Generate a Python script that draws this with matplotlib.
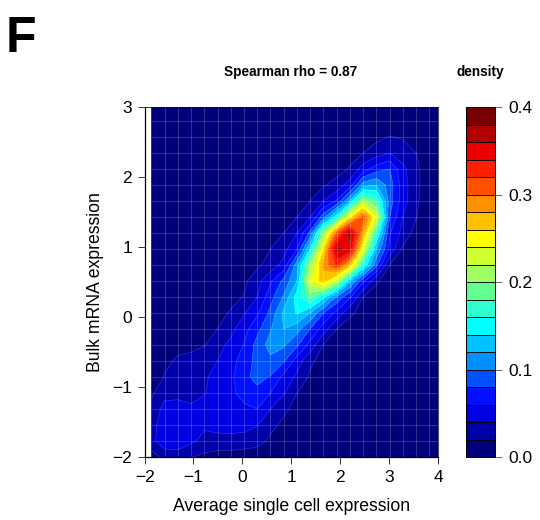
#!/usr/bin/env python3
"""Filled density contour of bulk vs. average single cell expression (panel F)."""

import numpy as np
import matplotlib
matplotlib.use("Agg")
import matplotlib.pyplot as plt
from matplotlib.colors import ListedColormap, BoundaryNorm

plt.rcParams["font.family"] = ["Liberation Sans", "DejaVu Sans"]

x_grid = [-1.86, -1.589, -1.319, -1.048, -0.778, -0.507, -0.236, 0.034, 0.305, 0.575, 0.846,
          1.117, 1.387, 1.658, 1.928, 2.199, 2.47, 2.74, 3.011, 3.281, 3.552, 3.823, 4.093]
y_grid = [-2.0, -1.771, -1.543, -1.314, -1.086, -0.857, -0.629, -0.4, -0.171, 0.057, 0.286,
          0.514, 0.743, 0.971, 1.2, 1.429, 1.657, 1.886, 2.114, 2.343, 2.571, 2.8, 3.029]

# density on the grid, one row per y_grid value, bottom row first
density = [
    [.012, .024, .030, .021, .015, .011, .009, .007, .006, .004, .003, .002, .001, .001, 0, 0, 0, 0, 0, 0, 0, 0, 0],
    [.032, .056, .052, .044, .034, .034, .035, .034, .028, .016, .011, .008, .005, .003, .002, .001, .001, 0, 0, 0, 0, 0, 0],
    [.033, .050, .053, .050, .043, .046, .046, .045, .041, .025, .016, .011, .007, .005, .003, .002, .001, .001, 0, 0, 0, 0, 0],
    [.027, .046, .047, .045, .045, .050, .052, .055, .060, .040, .024, .014, .009, .006, .004, .002, .001, .001, 0, 0, 0, 0, 0],
    [.016, .034, .035, .030, .039, .046, .055, .068, .072, .060, .042, .020, .012, .008, .005, .003, .002, .001, 0, 0, 0, 0, 0],
    [.009, .021, .027, .028, .034, .054, .056, .073, .088, .078, .055, .036, .017, .010, .006, .004, .002, .001, 0, 0, 0, 0, 0],
    [.005, .017, .022, .026, .031, .040, .052, .070, .086, .095, .082, .050, .024, .012, .007, .004, .002, .001, 0, 0, 0, 0, 0],
    [.003, .012, .016, .015, .019, .033, .045, .061, .087, .108, .103, .083, .053, .019, .009, .005, .003, .002, .001, 0, 0, 0, 0],
    [.002, .007, .010, .011, .014, .020, .034, .053, .074, .098, .120, .108, .079, .050, .020, .010, .005, .003, .001, 0, 0, 0, 0],
    [.001, .004, .006, .007, .009, .014, .022, .038, .057, .085, .125, .142, .119, .080, .054, .024, .012, .006, .003, .001, 0, 0, 0],
    [.001, .002, .003, .004, .005, .009, .014, .021, .040, .072, .102, .150, .185, .145, .095, .063, .020, .010, .005, .002, .001, 0, 0],
    [0, .001, .002, .002, .003, .005, .009, .015, .033, .057, .085, .120, .235, .270, .220, .125, .065, .023, .010, .005, .002, .001, 0],
    [0, 0, .001, .001, .002, .003, .005, .009, .016, .028, .047, .110, .205, .285, .325, .270, .160, .085, .020, .009, .004, .002, .001],
    [0, 0, 0, .001, .001, .002, .003, .005, .010, .020, .032, .060, .140, .255, .370, .355, .235, .120, .055, .017, .007, .003, .001],
    [0, 0, 0, 0, .001, .001, .002, .003, .006, .012, .020, .040, .085, .200, .305, .375, .280, .165, .062, .033, .012, .006, .002],
    [0, 0, 0, 0, 0, .001, .001, .002, .003, .006, .011, .020, .040, .090, .150, .250, .310, .235, .080, .040, .021, .009, .003],
    [0, 0, 0, 0, 0, 0, .001, .001, .002, .004, .007, .012, .020, .040, .062, .120, .210, .175, .090, .050, .023, .009, .004],
    [0, 0, 0, 0, 0, 0, 0, .001, .001, .002, .004, .008, .012, .018, .027, .050, .110, .120, .090, .050, .024, .010, .004],
    [0, 0, 0, 0, 0, 0, 0, 0, .001, .001, .002, .004, .006, .008, .012, .022, .050, .070, .080, .045, .024, .010, .004],
    [0, 0, 0, 0, 0, 0, 0, 0, 0, .001, .001, .002, .003, .005, .008, .012, .020, .030, .040, .030, .020, .007, .002],
    [0, 0, 0, 0, 0, 0, 0, 0, 0, 0, .001, .001, .002, .003, .005, .008, .012, .015, .021, .018, .010, .004, .001],
    [0, 0, 0, 0, 0, 0, 0, 0, 0, 0, 0, 0, .001, .001, .002, .002, .003, .004, .004, .003, .002, .001, 0],
    [0, 0, 0, 0, 0, 0, 0, 0, 0, 0, 0, 0, 0, 0, 0, 0, 0, 0, 0, 0, 0, 0, 0],
]

levels = [0.0, .02, .04, .06, .08, .10, .12, .14, .16, .18, .20,
          .22, .24, .26, .28, .30, .32, .34, .36, .38, .40]
level_colors = ["#00007a", "#0000a8", "#0000e0", "#0010ff", "#0050ff", "#0090ff", "#00c0ff",
                "#00ffff", "#30ffd0", "#60ff90", "#a0ff60", "#d0ff30", "#ffff00", "#ffc000",
                "#ff9000", "#ff5000", "#ff2000", "#e80000", "#b00000", "#780000"]
x_ticks = [-2, -1, 0, 1, 2, 3, 4]
y_ticks = [-2, -1, 0, 1, 2, 3]
bar_ticks = [0.0, 0.1, 0.2, 0.3, 0.4]

W, H = 540, 520
fig = plt.figure(figsize=(W / 100, H / 100), dpi=100)


def axes_px(left, top, right, bottom):
    return fig.add_axes([left / W, 1 - bottom / H, (right - left) / W, (bottom - top) / H])


cmap = ListedColormap(level_colors)
norm = BoundaryNorm(levels, cmap.N)

ax = axes_px(144.5, 107, 438, 457)
ax.contourf(x_grid, y_grid, np.array(density), levels=levels, cmap=cmap, norm=norm)
ax.contour(x_grid, y_grid, np.array(density), levels=levels[1:-1], colors="white",
           linewidths=0.5, alpha=0.18)
# the light seams between the grid cells
for xv in x_grid:
    ax.plot([xv, xv], [y_grid[0], 3], color="white", lw=0.7, alpha=0.2, solid_capstyle="butt")
for yv in y_grid:
    ax.plot([x_grid[0], 4], [yv, yv], color="white", lw=0.7, alpha=0.2, solid_capstyle="butt")

ax.set_xlim(-2, 4)
ax.set_ylim(-2, 3)
ax.set_xticks(x_ticks)
ax.set_yticks(y_ticks)
ax.set_xticklabels([str(t).replace("-", "\u2212") for t in x_ticks])
ax.set_yticklabels([str(t).replace("-", "\u2212") for t in y_ticks])
ax.tick_params(direction="out", length=5, width=0.7, color="#333333", labelsize=12.5, pad=4)
ax.spines["top"].set_linewidth(0.6)
ax.spines["top"].set_color("#000050")
ax.spines["right"].set_linewidth(0.8)
ax.spines["right"].set_color("#505070")
ax.spines["left"].set_linewidth(0.9)
ax.spines["bottom"].set_linewidth(0.9)
ax.set_xlabel("Average single cell expression", fontsize=12.7, labelpad=10)
ax.set_ylabel("Bulk mRNA expression", fontsize=12.7, labelpad=6)

# colour key
cax = axes_px(466, 107.3, 494.7, 457.3)
cax.bar([0] * cmap.N, np.diff(levels), bottom=levels[:-1], width=1, color=level_colors,
        edgecolor="black", linewidth=0.6, align="center")
cax.set_xlim(-0.5, 0.5)
cax.set_ylim(0, 0.4)
cax.set_xticks([])
cax.yaxis.tick_right()
cax.set_yticks(bar_ticks)
cax.set_yticklabels([f"{t:.1f}" for t in bar_ticks])
cax.tick_params(direction="out", length=5, width=0.7, color="#666666", labelsize=12.5, pad=5)
for spine in cax.spines.values():
    spine.set_linewidth(0.7)

fig.text(291 / W, 1 - 72 / H, "Spearman rho = 0.87", fontsize=9.8, fontweight="bold",
         ha="center", va="center")
fig.text(480.5 / W, 1 - 72 / H, "density", fontsize=9.8, fontweight="bold",
         ha="center", va="center")
fig.text(6 / W, 1 - 52 / H, "F", fontsize=36, fontweight="bold", ha="left", va="baseline")

fig.savefig("out.png", dpi=100)
